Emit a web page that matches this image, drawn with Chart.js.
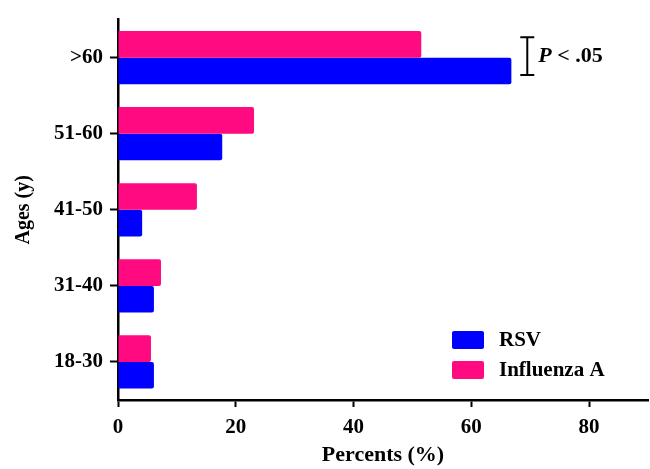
<!DOCTYPE html>
<html>
<head>
<meta charset="utf-8">
<script src="https://cdn.jsdelivr.net/npm/chart.js@4/dist/chart.umd.min.js"></script>
<style>
  html, body { margin: 0; padding: 0; background: #fff; }
  #wrap { width: 650px; height: 469px; }
</style>
</head>
<body>
<div id="wrap"><canvas id="ageChart"></canvas></div>
<script>
const ageGroups = [">60", "51-60", "41-50", "31-40", "18-30"];
const fluA = [51.5, 23.1, 13.4, 7.3, 5.6];
const rsv = [66.8, 17.7, 4.1, 6.1, 6.1];
const xTicks = [0, 20, 40, 60, 80];
const pLabel = "< .05";

const serif = "'Liberation Serif', 'Times New Roman', serif";

// legend + P-value bracket drawn on top
const extras = {
  id: "extras",
  afterDatasetsDraw(chart) {
    const ctx = chart.ctx;
    const x = chart.scales.x;
    ctx.save();

    // bracket between the two >60 bars
    const pink = chart.getDatasetMeta(0).data[0];
    const blue = chart.getDatasetMeta(1).data[0];
    const bx = x.getPixelForValue(69.5);
    const y1 = pink.y - 7, y2 = blue.y + 4;
    ctx.strokeStyle = "#000";
    ctx.lineWidth = 2;
    ctx.beginPath();
    ctx.moveTo(bx, y1); ctx.lineTo(bx, y2);
    ctx.moveTo(bx - 7, y1); ctx.lineTo(bx + 7, y1);
    ctx.moveTo(bx - 7, y2); ctx.lineTo(bx + 7, y2);
    ctx.stroke();
    ctx.fillStyle = "#000";
    ctx.textBaseline = "middle";
    ctx.textAlign = "left";
    const ty = (y1 + y2) / 2;
    ctx.font = "italic bold 22px " + serif;
    ctx.fillText("P", bx + 11, ty);
    const pw = ctx.measureText("P ").width;
    ctx.font = "bold 22px " + serif;
    ctx.fillText(pLabel, bx + 11 + pw, ty);

    // legend, RSV first
    const items = [chart.data.datasets[1], chart.data.datasets[0]];
    items.forEach((ds, i) => {
      const ly = 331 + i * 30;
      ctx.fillStyle = ds.backgroundColor;
      ctx.beginPath();
      ctx.roundRect(452, ly, 32, 18, 2);
      ctx.fill();
      ctx.fillStyle = "#000";
      ctx.font = "bold 21px " + serif;
      ctx.fillText(ds.label, 499, ly + 10);
    });
    ctx.restore();
  }
};

new Chart(document.getElementById("ageChart"), {
  type: "bar",
  data: {
    labels: ageGroups,
    datasets: [
      { label: "Influenza A", data: fluA, backgroundColor: "#ff0a80", borderRadius: 2, borderSkipped: "start" },
      { label: "RSV", data: rsv, backgroundColor: "#0000ff", borderRadius: 2, borderSkipped: "start" }
    ]
  },
  plugins: [extras],
  options: {
    indexAxis: "y",
    responsive: true,
    maintainAspectRatio: false,
    animation: false,
    layout: { padding: { top: 16, right: 2, left: 8, bottom: 0 } },
    plugins: {
      legend: { display: false },
      tooltip: { enabled: false }
    },
    datasets: { bar: { categoryPercentage: 0.7, barPercentage: 1.0 } },
    scales: {
      x: {
        min: 0,
        max: 90,
        afterBuildTicks: (s) => { s.ticks = xTicks.map(v => ({ value: v })); },
        afterFit: (s) => { s.height = 69; },
        border: { color: "#000", width: 2.5 },
        grid: { drawOnChartArea: false, drawTicks: true, tickLength: 7, tickColor: "#000", tickWidth: 2 },
        ticks: { color: "#000", font: { family: serif, size: 21, weight: "bold" }, padding: 8 },
        title: { display: true, text: "Percents (%)", color: "#000", font: { family: serif, size: 22, weight: "bold" }, padding: { top: -4, bottom: 0 } }
      },
      y: {
        afterFit: (s) => { s.width = 110; },
        border: { color: "#000", width: 2.5 },
        grid: { offset: false, drawOnChartArea: false, drawTicks: true, tickLength: 8, tickColor: "#000", tickWidth: 2 },
        ticks: { color: "#000", font: { family: serif, size: 21, weight: "bold" }, padding: 7 },
        title: { display: true, text: "Ages (y)", color: "#000", font: { family: serif, size: 20, weight: "bold" }, padding: { bottom: 6 } }
      }
    }
  }
});
</script>
</body>
</html>
